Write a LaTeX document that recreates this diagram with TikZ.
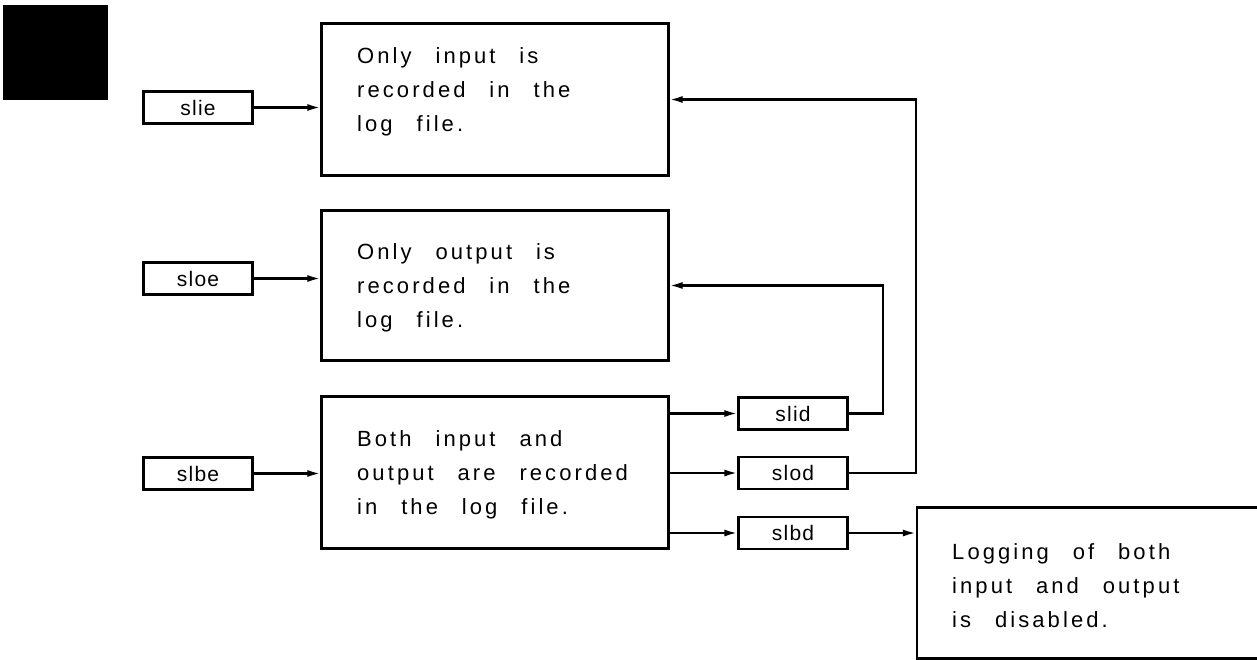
\documentclass[tikz,border=0pt]{standalone}
\usepackage{fontspec}
\setmainfont{Liberation Sans}[LetterSpace=14,WordSpace=2.6]
\newfontfamily\tagfont{Liberation Sans}[LetterSpace=6]
\usetikzlibrary{arrows.meta}
\begin{document}
\begin{tikzpicture}[x=1pt,y=-1pt,
  every node/.style={inner sep=0pt},
  frame/.style={draw, line width=2.2pt, minimum width=347pt, minimum height=152pt},
  tag/.style={draw, line width=2.2pt, minimum width=109pt, minimum height=32pt,
    font=\tagfont\fontsize{21}{21}\selectfont},
  txt/.style={align=left, anchor=west, font=\fontsize{22}{34}\selectfont},
  link/.style={line width=2.2pt, -{Latex[length=13pt,width=7pt]}}]
\clip (0,0) rectangle (1257,660);

% corner mark
\node[fill=black, minimum width=105pt, minimum height=95pt] (mark) at (55.5,52.5) {};

% state boxes
\node[frame] (b1) at (495,99.5) {};
\node[frame, minimum height=150pt] (b2) at (495,285.5) {};
\node[frame] (b3) at (495,472.5) {};
\node[frame, minimum width=360pt, minimum height=151pt] (b4) at (1097,583) {};

\node[txt] (t1) at (357,92) {Only input is\\recorded in the\\log file.};
\node[txt] (t2) at (357,288) {Only output is\\recorded in the\\log file.};
\node[txt] (t3) at (357,475) {Both input and\\output are recorded\\in the log file.};
\node[txt] (t4) at (952,586) {Logging of both\\input and output\\is disabled.};

% command tags
\node[tag] (slie) at (198,107.5) {slie};
\node[tag] (sloe) at (198,278.5) {sloe};
\node[tag] (slbe) at (198,473.5) {slbe};
\node[tag] (slid) at (793,413.5) {slid};
\node[tag] (slod) at (793,473) {slod};
\node[tag] (slbd) at (793,533) {slbd};

% enable commands
\draw[link] (slie.east) -- (slie.east -| b1.west);
\draw[link] (sloe.east) -- (sloe.east -| b2.west);
\draw[link] (slbe.east) -- (slbe.east -| b3.west);

% disable commands leaving the combined state
\draw[link] (b3.east |- slid) -- (slid.west);
\draw[link] (b3.east |- slod) -- (slod.west);
\draw[link] (b3.east |- slbd) -- (slbd.west);

% transitions
\draw[link] (slid.east) -- ++(34,0) |- (b2.east);
\draw[link] (slod.east) -- (slod.east -| b4.west) |- (b1.east);
\draw[link] (slbd.east) -- (slbd.east -| b4.west);
\end{tikzpicture}
\end{document}
